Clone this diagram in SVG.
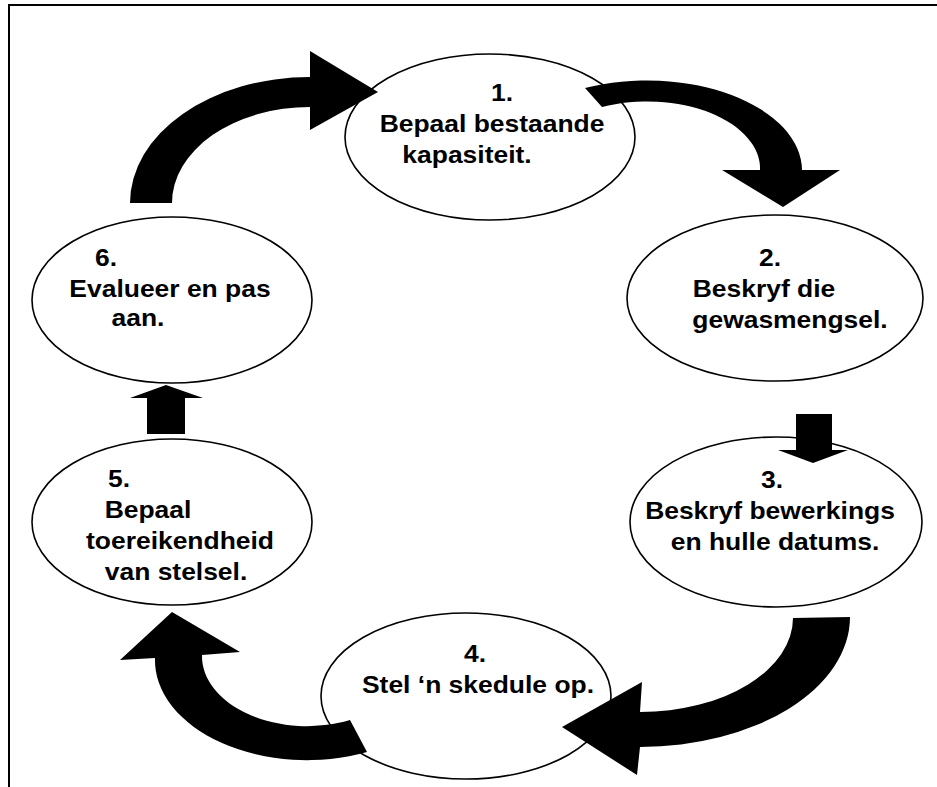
<svg xmlns="http://www.w3.org/2000/svg" width="937" height="787" viewBox="0 0 937 787">
<style>
.frame{fill:none;stroke:#000;stroke-width:2}
.node ellipse{fill:#fff;stroke:#000;stroke-width:1.6}
.node text{font-family:"Liberation Sans",Arial,sans-serif;font-weight:bold;font-size:23px;fill:#000;text-anchor:middle}
.arrow{fill:#000;stroke:none}
</style>
<rect width="937" height="787" fill="#fff"/>
<path class="frame" d="M9,787 L9,5 L937,5"/>
<g id="n1" class="node">
<ellipse cx="490" cy="137" rx="145" ry="83"/>
<text transform="translate(502 101) scale(1.15 1)">1.</text>
<text transform="translate(492 132) scale(1.15 1)">Bepaal bestaande</text>
<text transform="translate(467 163) scale(1.15 1)">kapasiteit.</text>
</g>
<g id="n2" class="node">
<ellipse cx="775" cy="298" rx="148" ry="83"/>
<text transform="translate(770 266) scale(1.15 1)">2.</text>
<text transform="translate(764 297) scale(1.15 1)">Beskryf die</text>
<text transform="translate(790 328) scale(1.15 1)">gewasmengsel.</text>
</g>
<g id="n3" class="node">
<ellipse cx="776" cy="522" rx="146" ry="85"/>
<text transform="translate(772 488) scale(1.15 1)">3.</text>
<text transform="translate(770 519) scale(1.15 1)">Beskryf bewerkings</text>
<text transform="translate(775 550) scale(1.15 1)">en hulle datums.</text>
</g>
<g id="n4" class="node">
<ellipse cx="466" cy="696" rx="145" ry="83"/>
<text transform="translate(475 662) scale(1.15 1)">4.</text>
<text transform="translate(478 693) scale(1.15 1)">Stel ‘n skedule op.</text>
</g>
<g id="n5" class="node">
<ellipse cx="172" cy="522" rx="140" ry="83"/>
<text transform="translate(119 487) scale(1.15 1)">5.</text>
<text transform="translate(148 518) scale(1.15 1)">Bepaal</text>
<text transform="translate(180 549) scale(1.15 1)">toereikendheid</text>
<text transform="translate(176 580) scale(1.15 1)">van stelsel.</text>
</g>
<g id="n6" class="node">
<ellipse cx="172" cy="300" rx="140" ry="83"/>
<text transform="translate(106 266) scale(1.15 1)">6.</text>
<text transform="translate(170 297) scale(1.15 1)">Evalueer en pas</text>
<text transform="translate(138 326) scale(1.15 1)">aan.</text>
</g>
<g id="connectors">
<path class="arrow" d="M130,203 A180,126 0 0 1 310,77 L310,51 L378,92 L310,130 L310,107 A138,96 0 0 0 172,203 Z"/>
<path class="arrow" d="M585,88 A155,90 0 0 1 802,170 L840,170 L783,207 L722,170 L760,170 A113,67 0 0 0 602,107 Z"/>
<path class="arrow" d="M796,414 L832,414 L832,450 L848,450 L813,463 L778,450 L796,450 Z"/>
<path class="arrow" d="M793,618 L850,617 A210,130 0 0 1 640,747 L637,775 L562,727 L642,682 L640,712 A153,94 0 0 0 793,618 Z"/>
<path class="arrow" d="M350,720 L367,752 A152,100 0 0 1 155,658 L120,660 L172,612 L240,652 L202,655 A105,70 0 0 0 350,720 Z"/>
<path class="arrow" d="M147,434 L185,434 L185,398 L203,398 L166,385 L130,398 L147,398 Z"/>
</g>
</svg>
